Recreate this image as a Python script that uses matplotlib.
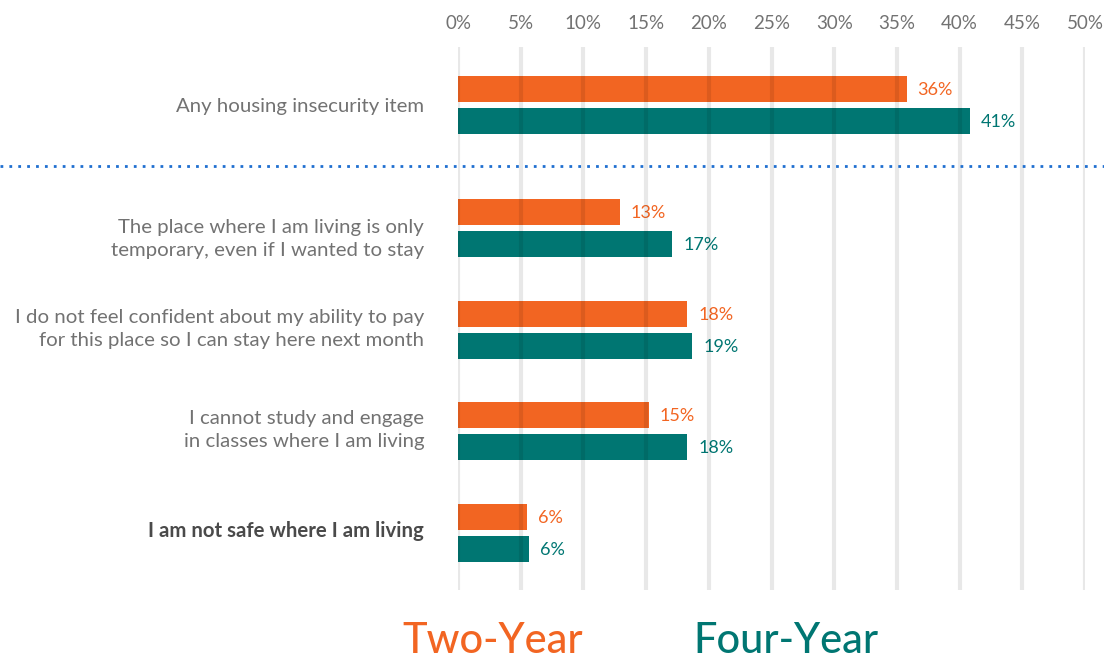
import matplotlib.pyplot as plt
import numpy as np

categories = ['Any housing insecurity item',
              'The place where I am living is only\ntemporary, even if I wanted to stay',
              'I do not feel confident about my ability to pay\nfor this place so I can stay here next month',
              'I cannot study and engage\nin classes where I am living',
              'I am not safe where I am living']
two_year = [35.8, 12.9, 18.3, 15.2, 5.5]
four_year = [40.8, 17.1, 18.7, 18.3, 5.7]
two_labels = ['36%', '13%', '18%', '15%', '6%']
four_labels = ['41%', '17%', '19%', '18%', '6%']
ticks = [0, 5, 10, 15, 20, 25, 30, 35, 40, 45, 50]

orange = '#f26522'
teal = '#007672'
gray = '#727272'

plt.rcParams['font.family'] = ['Lato', 'DejaVu Sans']

W, H = 1104, 659
fig = plt.figure(figsize=(W / 100, H / 100), dpi=100)
# axes in pixel units: 0% at x=458, 50% at x=1085, y from 47 to 590
ax = fig.add_axes([458 / W, (H - 590) / H, (1085 - 458) / W, (590 - 47) / H])
ax.set_xlim(0, 50)
ax.set_ylim(590, 47)

centers = np.array([105, 228, 330, 431.5, 533])
label_y = [107, 239, 329, 430, 531]
bh = 26
ax.barh(centers - 16, two_year, height=bh, color=orange, zorder=2)
ax.barh(centers + 16, four_year, height=bh, color=teal, zorder=2)

for i in range(len(categories)):
    ax.text(two_year[i] + 0.85, centers[i] - 15, two_labels[i], color=orange,
            fontsize=13, va='center', ha='left')
    ax.text(four_year[i] + 0.85, centers[i] + 17, four_labels[i], color=teal,
            fontsize=13, va='center', ha='left')
    bold = i == len(categories) - 1
    ax.text(-2.7, label_y[i], categories[i], ha='right', va='center',
            fontsize=14.7, color='#4a4a4a' if bold else gray,
            fontweight='bold' if bold else 'normal', linespacing=1.45)

for t in ticks:
    ax.axvline(t, color='black', alpha=0.09, lw=3, zorder=3)
    ax.text(t, 24, '%d%%' % t, ha='center', va='center', fontsize=13.5,
            color=gray)

ax.axis('off')

# dotted separator
fig.add_artist(plt.Line2D([0, 1], [(H - 166) / H] * 2, color='#1f6fd0',
                          lw=2, linestyle=(0, (1, 2.2))))

fig.text(493 / W, (H - 641) / H, 'Two-Year', color=orange, fontsize=30,
         ha='center', va='center', fontweight='medium')
fig.text(786 / W, (H - 641) / H, 'Four-Year', color=teal, fontsize=30,
         ha='center', va='center', fontweight='medium')

fig.savefig('out.png', dpi=100)
